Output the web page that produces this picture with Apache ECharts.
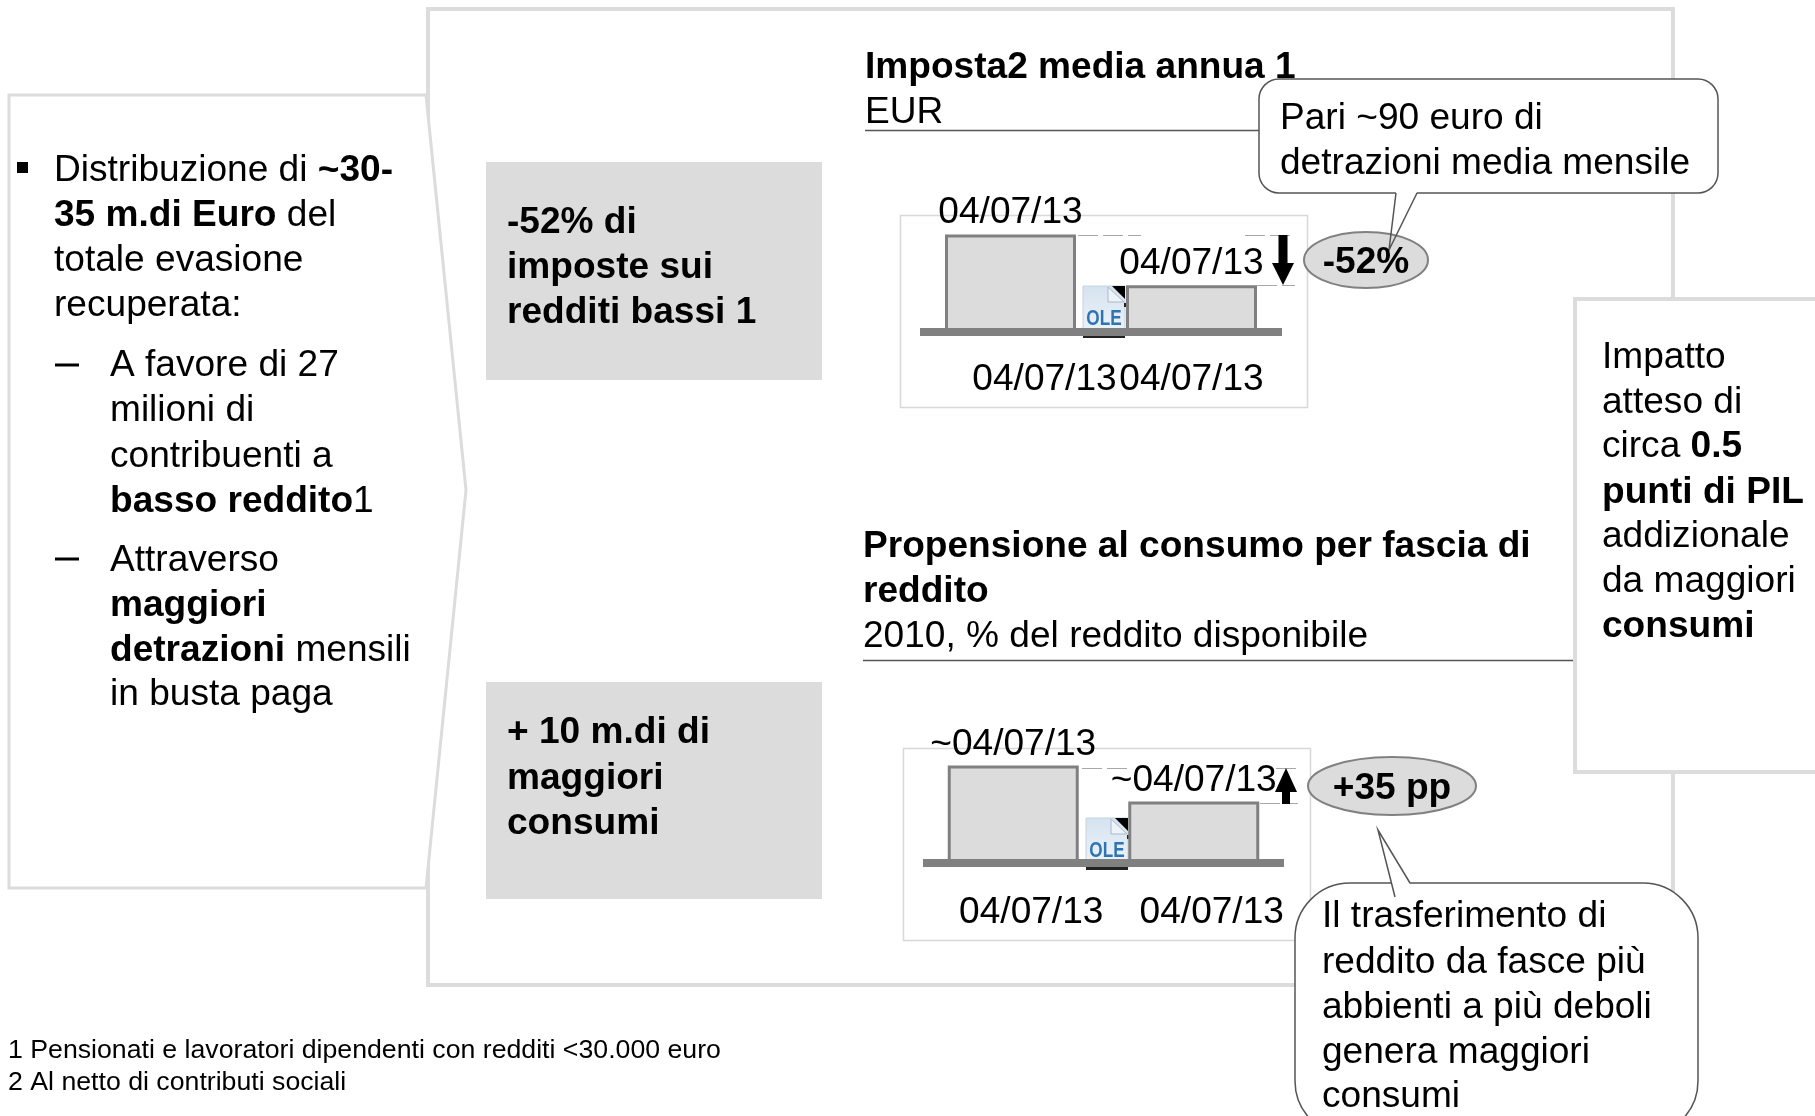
<!DOCTYPE html>
<html>
<head>
<meta charset="utf-8">
<style>html,body{margin:0;padding:0;background:#fff}#main{width:1815px;height:1116px}</style>
<script src="https://cdn.jsdelivr.net/npm/echarts@6/dist/echarts.min.js"></script>
</head>
<body>
<div id="main"></div>
<script>
// Chart data
const taxCategories = ['04/07/13', '04/07/13'];
const taxValues = [100, 48];
const taxValueLabels = ['04/07/13', '04/07/13'];
const consumptionCategories = ['04/07/13', '04/07/13'];
const consumptionValues = [100, 63];
const consumptionValueLabels = ['~04/07/13', '~04/07/13'];

// Slide texts ({b|...} marks bold runs)
const leftIntro = ['Distribuzione di {b|~30-}', '{b|35 m.di Euro} del', 'totale evasione', 'recuperata:'];
const leftSubA = ['A favore di 27', 'milioni di', 'contribuenti a', '{b|basso reddito}1'];
const leftSubB = ['Attraverso', '{b|maggiori}', '{b|detrazioni} mensili', 'in busta paga'];
const boxTop = ['-52% di', 'imposte sui', 'redditi bassi 1'];
const boxBottom = ['+ 10 m.di di', 'maggiori', 'consumi'];
const titleTop = ['{b|Imposta2 media annua 1}', 'EUR'];
const titleBottom = ['{b|Propensione al consumo per fascia di}', '{b|reddito}', '2010, % del reddito disponibile'];
const calloutTop = ['Pari ~90 euro di', 'detrazioni media mensile'];
const calloutBottom = ['Il trasferimento di', 'reddito da fasce più', 'abbienti a più deboli', 'genera maggiori', 'consumi'];
const rightBox = ['Impatto', 'atteso di', 'circa {b|0.5}', '{b|punti di PIL}', 'addizionale', 'da maggiori', '{b|consumi}'];
const footnotes = ['1 Pensionati e lavoratori dipendenti con redditi <30.000 euro', '2 Al netto di contributi sociali'];
const badgeTop = '-52%';
const badgeBottom = '+35 pp';

const FONT = '"Liberation Sans", Arial, sans-serif';
const SIZE = 37.1;
const GREY = '#dcdcdc', BAR = '#808080', DARK = '#555555';

function line(text, x, cy, size, z) {
  return {
    type: 'text', x: x, y: cy, z: z || 10, silent: true,
    style: {
      text: '{r|' + text.replace(/\{b\|([^}]*)\}/g, '}{b|$1}{r|') + '}',
      verticalAlign: 'middle', align: 'left',
      rich: {
        r: { fontFamily: FONT, fontSize: size || SIZE, fill: '#000' },
        b: { fontFamily: FONT, fontSize: size || SIZE, fontWeight: 'bold', fill: '#000' }
      }
    }
  };
}
function block(lines, x, ys, size, z) { return lines.map((t, i) => line(t, x, ys[i], size, z)); }
function rect(x, y, w, h, style, z, r) {
  return { type: 'rect', z: z, silent: true, shape: { x: x, y: y, width: w, height: h, r: r || 0 }, style: style };
}
function seg(x1, y1, x2, y2, stroke, w, z, dash) {
  return { type: 'line', z: z, silent: true, shape: { x1: x1, y1: y1, x2: x2, y2: y2 }, style: { stroke: stroke, lineWidth: w, lineDash: dash || null } };
}
function poly(points, style, z) { return { type: 'polygon', z: z, silent: true, shape: { points: points }, style: style }; }
function polyline(points, style, z) { return { type: 'polyline', z: z, silent: true, shape: { points: points }, style: style }; }
function ole(x, y) {
  return [
    rect(x, y, 42, 50, { fill: { type: 'linear', x: 0, y: 0, x2: 0, y2: 1, colorStops: [{ offset: 0, color: '#d5e3f0' }, { offset: 1, color: '#eef4fa' }] }, stroke: '#c5d2de', lineWidth: 1 }, 1),
    poly([[x + 25, y + 1], [x + 41, y + 16], [x + 25, y + 16]], { fill: '#eef3f8', stroke: '#a9b9c8', lineWidth: 1 }, 1),
    poly([[x + 29, y], [x + 42, y], [x + 42, y + 13]], { fill: '#000' }, 1),
    rect(x + 41, y + 17, 2, 4, { fill: '#222' }, 1),
    { type: 'text', x: x + 21, y: y + 33, z: 1, scaleX: 0.78, silent: true, style: { text: 'OLE', fontFamily: FONT, fontWeight: 'bold', fontSize: 22, fill: '#2f74b2', align: 'center', verticalAlign: 'middle' } },
    rect(x, y + 49, 42, 3, { fill: '#222' }, 1)
  ];
}

const elements = [].concat(
  // Outer frame, chevron panel, grey boxes
  rect(428, 9, 1245, 976, { fill: '#fff', stroke: GREY, lineWidth: 4 }, 0),
  poly([[9, 95], [426, 95], [466, 490], [426, 888], [9, 888]], { fill: '#fff', stroke: GREY, lineWidth: 3 }, 3),
  rect(486, 162, 336, 218, { fill: GREY }, 3),
  rect(486, 682, 336, 217, { fill: GREY }, 3),
  rect(1575, 299, 300, 473, { fill: '#fff', stroke: GREY, lineWidth: 4 }, 3),
  // Left panel text
  rect(17, 162, 11, 11, { fill: '#000' }, 10),
  seg(55, 365, 79, 365, '#000', 3, 10),
  seg(55, 559, 79, 559, '#000', 3, 10),
  block(leftIntro, 54, [171, 216, 261, 306]),
  block(leftSubA, 110, [366, 411, 457, 502]),
  block(leftSubB, 110, [561, 606, 651, 695]),
  block(boxTop.map(t => '{b|' + t + '}'), 507, [223, 268, 313]),
  block(boxBottom.map(t => '{b|' + t + '}'), 507, [733, 779, 824]),
  // Titles
  block(titleTop, 865, [68, 113]),
  seg(865, 130.5, 1270, 130.5, DARK, 1.5, 4),
  block(titleBottom, 863, [547, 592, 637]),
  seg(863, 660.5, 1573, 660.5, DARK, 1.5, 4),
  // Chart frames and icons
  rect(900.5, 215.5, 407, 192, { fill: '#fff', stroke: '#d8d8d8', lineWidth: 1.5 }, 0),
  rect(903.5, 748.5, 407, 192, { fill: '#fff', stroke: '#d8d8d8', lineWidth: 1.5 }, 0),
  ole(1083, 286),
  ole(1086, 818),
  // Top chart difference marker
  seg(1078, 235.5, 1141, 235.5, '#a8a8a8', 1, 4, [20, 5]),
  seg(1245, 235.5, 1291, 235.5, '#a8a8a8', 1, 4, [20, 5]),
  seg(1257, 285.5, 1295, 285.5, '#a8a8a8', 1, 4, [20, 5]),
  poly([[1278.5, 235], [1287.5, 235], [1287.5, 263], [1294, 263], [1283, 285], [1272, 263], [1278.5, 263]], { fill: '#000' }, 5),
  // Bottom chart difference marker
  seg(1082, 768.5, 1128, 768.5, '#a8a8a8', 1, 4, [20, 5]),
  seg(1276, 768.5, 1298, 768.5, '#a8a8a8', 1, 4, [20, 5]),
  seg(1260, 803.5, 1298, 803.5, '#a8a8a8', 1, 4, [20, 5]),
  poly([[1282, 804], [1290, 804], [1290, 792], [1297, 792], [1286, 768], [1275, 792], [1282, 792]], { fill: '#000' }, 5),
  // Top callout and badge
  rect(1259, 79, 459, 114, { fill: '#fff', stroke: DARK, lineWidth: 1.5 }, 6, 20),
  poly([[1396, 192], [1389, 250], [1417, 192]], { fill: '#fff' }, 6),
  { type: 'ellipse', z: 7, silent: true, shape: { cx: 1366, cy: 260, rx: 62, ry: 28 }, style: { fill: GREY, stroke: BAR, lineWidth: 2 } },
  polyline([[1396, 193], [1389, 250], [1417, 193]], { fill: 'none', stroke: DARK, lineWidth: 1.5 }, 8),
  block(calloutTop, 1280, [119, 164]),
  { type: 'text', x: 1366, y: 263, z: 10, silent: true, style: { text: badgeTop, fontFamily: FONT, fontWeight: 'bold', fontSize: SIZE, fill: '#000', align: 'center', verticalAlign: 'middle' } },
  // Bottom callout and badge
  { type: 'ellipse', z: 7, silent: true, shape: { cx: 1392, cy: 786, rx: 84, ry: 29 }, style: { fill: GREY, stroke: BAR, lineWidth: 2 } },
  { type: 'text', x: 1392, y: 789, z: 10, silent: true, style: { text: badgeBottom, fontFamily: FONT, fontWeight: 'bold', fontSize: SIZE, fill: '#000', align: 'center', verticalAlign: 'middle' } },
  rect(1295, 883, 403, 253, { fill: '#fff', stroke: DARK, lineWidth: 1.5 }, 6, 55),
  poly([[1378, 830], [1395, 897], [1410, 884]], { fill: '#fff' }, 6),
  polyline([[1395, 897], [1378, 830], [1410, 883]], { fill: 'none', stroke: DARK, lineWidth: 1.5 }, 8),
  block(calloutBottom, 1322, [917, 963, 1008, 1053, 1097]),
  // Right box text and footnotes
  block(rightBox, 1602, [358, 403, 447, 493, 537, 582, 627]),
  block(footnotes, 8, [1051, 1083], 26.7)
);

function barAxis(cats, gridIndex, leftPads, margin) {
  return {
    type: 'category', gridIndex: gridIndex, data: cats, z: 3,
    axisLine: { show: true, lineStyle: { color: BAR, width: 8, cap: 'butt' } },
    axisTick: { show: false },
    axisLabel: {
      show: true, interval: 0, margin: margin, hideOverlap: false,
      formatter: (v, i) => '{p' + i + '|' + v + '}',
      rich: {
        p0: { fontFamily: FONT, fontSize: SIZE, color: '#000', padding: [0, 0, 0, leftPads[0]] },
        p1: { fontFamily: FONT, fontSize: SIZE, color: '#000', padding: [0, 0, 0, leftPads[1]] }
      }
    }
  };
}
function barSeries(values, labels, index, distance) {
  return {
    type: 'bar', xAxisIndex: index, yAxisIndex: index, barWidth: 131, z: 2,
    data: values,
    itemStyle: { color: GREY, borderColor: BAR, borderWidth: 3 },
    label: {
      show: true, position: 'top', distance: distance, color: '#000',
      fontFamily: FONT, fontSize: SIZE,
      formatter: p => labels[p.dataIndex]
    }
  };
}

const chart = echarts.init(document.getElementById('main'), null, { renderer: 'canvas', width: 1815, height: 1116 });
chart.setOption({
  animation: false,
  backgroundColor: '#fff',
  grid: [
    { left: 920, top: 234.5, width: 362, height: 97.5 },
    { left: 923, top: 765.5, width: 361, height: 97.5 }
  ],
  xAxis: [barAxis(taxCategories, 0, [68, 0], 29), barAxis(consumptionCategories, 1, [36, 36], 31)],
  yAxis: [
    { type: 'value', gridIndex: 0, min: 0, max: 100, show: false },
    { type: 'value', gridIndex: 1, min: 0, max: 100, show: false }
  ],
  series: [barSeries(taxValues, taxValueLabels, 0, 3), barSeries(consumptionValues, consumptionValueLabels, 1, 2)],
  graphic: { elements: elements }
});
</script>
</body>
</html>
